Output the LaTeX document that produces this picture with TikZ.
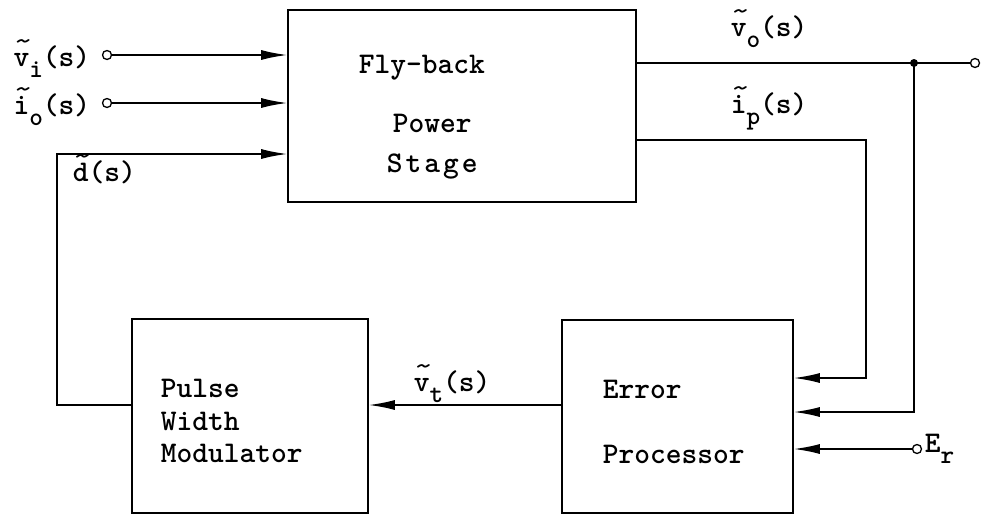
\documentclass[tikz,border=0pt]{standalone}
\usetikzlibrary{arrows.meta}
\newcommand{\tld}[1]{\makebox[0pt][l]{\raisebox{0.52em}{\mdseries\scalebox{1.25}[1]{\string~}}}#1}
\newcommand{\lowr}[1]{\raisebox{-0.38em}{\fontsize{26}{26}\selectfont #1}}
\begin{document}
\begin{tikzpicture}[x=1pt,y=-1pt,line width=1.6pt,
  box/.style={draw, rectangle, inner sep=0pt, line width=1.6pt},
  arr/.style={-{Latex[length=26pt,width=10pt]}, line width=1.6pt},
  term/.style={circle, draw, fill=white, inner sep=0pt, minimum size=9pt, line width=1.3pt},
  jdot/.style={circle, fill, inner sep=0pt, minimum size=8pt},
  boxtext/.style={font=\ttfamily\bfseries\fontsize{30}{36}\selectfont, inner sep=0pt},
  lbl/.style={font=\ttfamily\bfseries\fontsize{30}{36}\selectfont, inner sep=0pt}]
\useasboundingbox (0,0) rectangle (984,517);
% blocks
\node[box, minimum width=348pt, minimum height=192pt] (fly) at (462,106) {};
\node[box, minimum width=236pt, minimum height=194pt] (pwm) at (250,416) {};
\node[box, minimum width=231pt, minimum height=193pt] (err) at (677.5,416.5) {};
% block texts
\node[boxtext, anchor=base west] (t1) at (358,73) {Fly-back};
\node[boxtext, anchor=base west] (t2) at (392,132) {Power};
\node[boxtext, anchor=base west] (t3) at (386,172) {S\hspace{3pt}t\hspace{3pt}a\hspace{3pt}g\hspace{3pt}e};
\node[boxtext, anchor=base west] (p1) at (160,397) {Pulse};
\node[boxtext, anchor=base west] (p2) at (160,430) {Width};
\node[boxtext, anchor=base west] (p3) at (160,462) {Modulator};
\node[boxtext, anchor=base west] (e1) at (602,398) {Error};
\node[boxtext, anchor=base west] (e2) at (602,463) {Processor};
% terminals and junction
\node[term] (vin) at (107,55) {};
\node[term] (ion) at (107,103) {};
\node[term] (vout) at (975,63) {};
\node[term] (er) at (917,449) {};
\coordinate (vj) at (914,63);
\coordinate (vk) at (914,412);
\coordinate (ipa) at (866,140);
\coordinate (ipb) at (866,378);
\coordinate (dta) at (57,405);
\coordinate (dtb) at (57,154);
% connectors
\draw[arr] (vin) -- (vin -| fly.west);
\draw[arr] (ion) -- (ion -| fly.west);
\draw[arr] (pwm.west |- dta) -- (dta) -- (dtb) -- (dtb -| fly.west);
\draw (vj -| fly.east) -- (vout);
\draw[arr] (vj) -- (vk) -- (vk -| err.east);
\draw[arr] (ipa -| fly.east) -- (ipa) -- (ipb) -- (ipb -| err.east);
\draw[arr] (er) -- (er -| err.east);
\draw[arr] (err.west |- dta) -- (pwm.east |- dta);
\node[jdot] (jd) at (vj) {};
% labels
\node[lbl, anchor=base east] (lvi) at (91,66) {\tld{v}\lowr{i}(s)};
\node[lbl, anchor=base east] (lio) at (91,114) {\tld{i}\lowr{o}(s)};
\node[lbl, anchor=base west] (ld) at (72,181) {\tld{d}(s)};
\node[lbl, anchor=base west] (lvo) at (730,36) {\tld{v}\lowr{o}(s)};
\node[lbl, anchor=base west] (lip) at (730,113) {\tld{i}\lowr{p}(s)};
\node[lbl, anchor=base west] (lvt) at (413,391) {\tld{v}\lowr{t}(s)};
\node[lbl, anchor=base west] (ler) at (924,452) {E\lowr{r}};
\end{tikzpicture}
\end{document}
